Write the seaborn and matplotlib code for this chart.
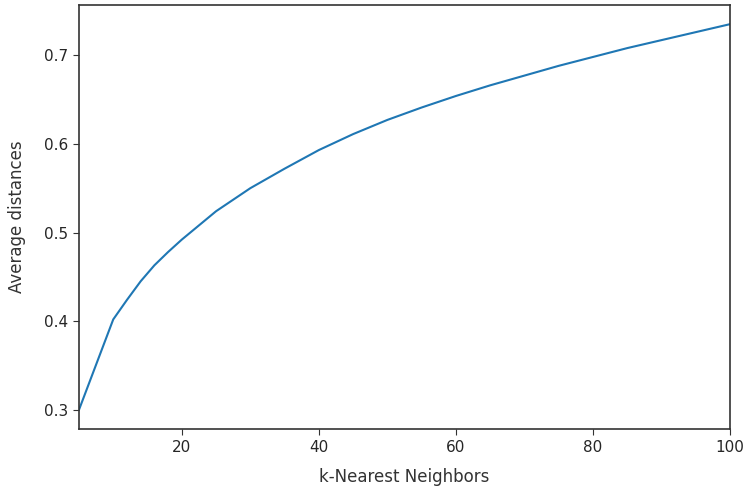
import numpy as np
import pandas as pd
import matplotlib
matplotlib.use("Agg")
import matplotlib.pyplot as plt
import seaborn as sns

# values
k_neighbors = [5, 10, 12, 14, 16, 18, 20, 25, 30, 35, 40, 45, 50,
               55, 60, 65, 70, 75, 80, 85, 90, 95, 100]
avg_distances = [0.300, 0.402, 0.424, 0.445, 0.463, 0.478, 0.492, 0.524,
                 0.550, 0.572, 0.593, 0.611, 0.627, 0.641, 0.654, 0.666,
                 0.677, 0.688, 0.698, 0.708, 0.717, 0.726, 0.735]

df = pd.DataFrame({"k": k_neighbors, "dist": avg_distances})

sns.set_style("ticks")
plt.rcParams["font.family"] = ["DejaVu Sans"]

fig, ax = plt.subplots(figsize=(7.45, 4.86), dpi=100)
sns.lineplot(data=df, x="k", y="dist", color="#1f77b4", linewidth=1.5, ax=ax)

ax.set_xlim(5, 100)
ax.set_xticks([20, 40, 60, 80, 100])
ax.set_yticks([0.3, 0.4, 0.5, 0.6, 0.7])
ax.tick_params(labelsize=11, length=4, color="#333333")
for s in ax.spines.values():
    s.set_visible(True)
    s.set_color("#333333")
    s.set_linewidth(1.2)

ax.set_xlabel("k-Nearest Neighbors", fontsize=12, color="#333333", labelpad=10)
ax.set_ylabel("Average distances", fontsize=12, color="#333333", labelpad=13)

fig.subplots_adjust(left=0.106, right=0.980, top=0.99, bottom=0.117)
fig.savefig("out.png", dpi=100)
